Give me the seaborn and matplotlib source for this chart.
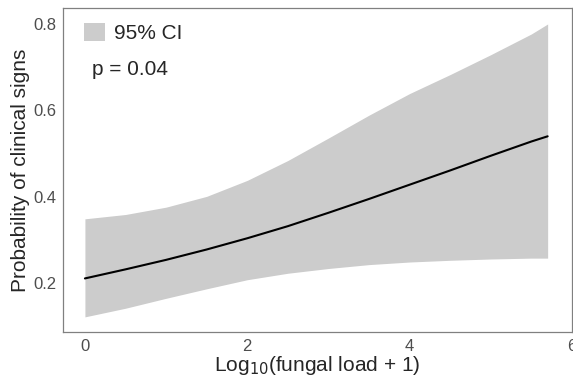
import numpy as np
import pandas as pd
import seaborn as sns
import matplotlib.pyplot as plt
from matplotlib.patches import Patch

# values
load = [0, 0.5, 1, 1.5, 2, 2.5, 3, 3.5, 4, 4.5, 5, 5.5, 5.7]
prob = [0.211, 0.232, 0.254, 0.278, 0.304, 0.332, 0.363, 0.395, 0.428, 0.461, 0.495, 0.528, 0.540]
ci_upper = [0.349, 0.359, 0.376, 0.401, 0.438, 0.484, 0.536, 0.589, 0.639, 0.683, 0.729, 0.777, 0.800]
ci_lower = [0.122, 0.142, 0.165, 0.187, 0.208, 0.223, 0.234, 0.243, 0.249, 0.253, 0.256, 0.258, 0.258]
x_ticks = [0, 2, 4, 6]
y_ticks = [0.2, 0.4, 0.6, 0.8]

df = pd.DataFrame({'load': load, 'prob': prob, 'lo': ci_lower, 'hi': ci_upper})

sns.set_style('white')
plt.rcParams['font.family'] = ['Liberation Sans', 'DejaVu Sans']

fig = plt.figure(figsize=(5.73, 3.78), dpi=100)
ax = fig.add_axes([63/573, 46/378, 509/573, 324/378])

ax.fill_between(df['load'], df['lo'], df['hi'], color='#cccccc', linewidth=0, label='95% CI')
sns.lineplot(x='load', y='prob', data=df, color='black', linewidth=1.5, ax=ax)

ax.set_xlim(-0.27, 6.0)
ax.set_ylim(0.087, 0.837)
ax.set_xticks(x_ticks)
ax.set_yticks(y_ticks)
ax.set_xticklabels([str(t) for t in x_ticks])
ax.set_yticklabels([f'{t:.1f}' for t in y_ticks])
ax.tick_params(axis='both', length=0, labelsize=12, labelcolor='#4d4d4d', pad=5)

for s in ax.spines.values():
	s.set_color('#808080')
	s.set_linewidth(0.9)

ax.set_xlabel('Log$_{10}$(fungal load + 1)', fontsize=15, labelpad=0)
ax.set_ylabel('Probability of clinical signs', fontsize=15, labelpad=2)

ax.legend(handles=[Patch(facecolor='#cccccc', edgecolor='none', label='95% CI')],
		loc='upper left', frameon=False, fontsize=15, handlelength=1.0, handleheight=1.0,
		handletextpad=0.45, borderaxespad=0.3, bbox_to_anchor=(0.013, 1.0))
ax.text(0.057, 0.81, 'p = 0.04', transform=ax.transAxes, fontsize=15, va='center')

fig.savefig('out.png', dpi=100)
